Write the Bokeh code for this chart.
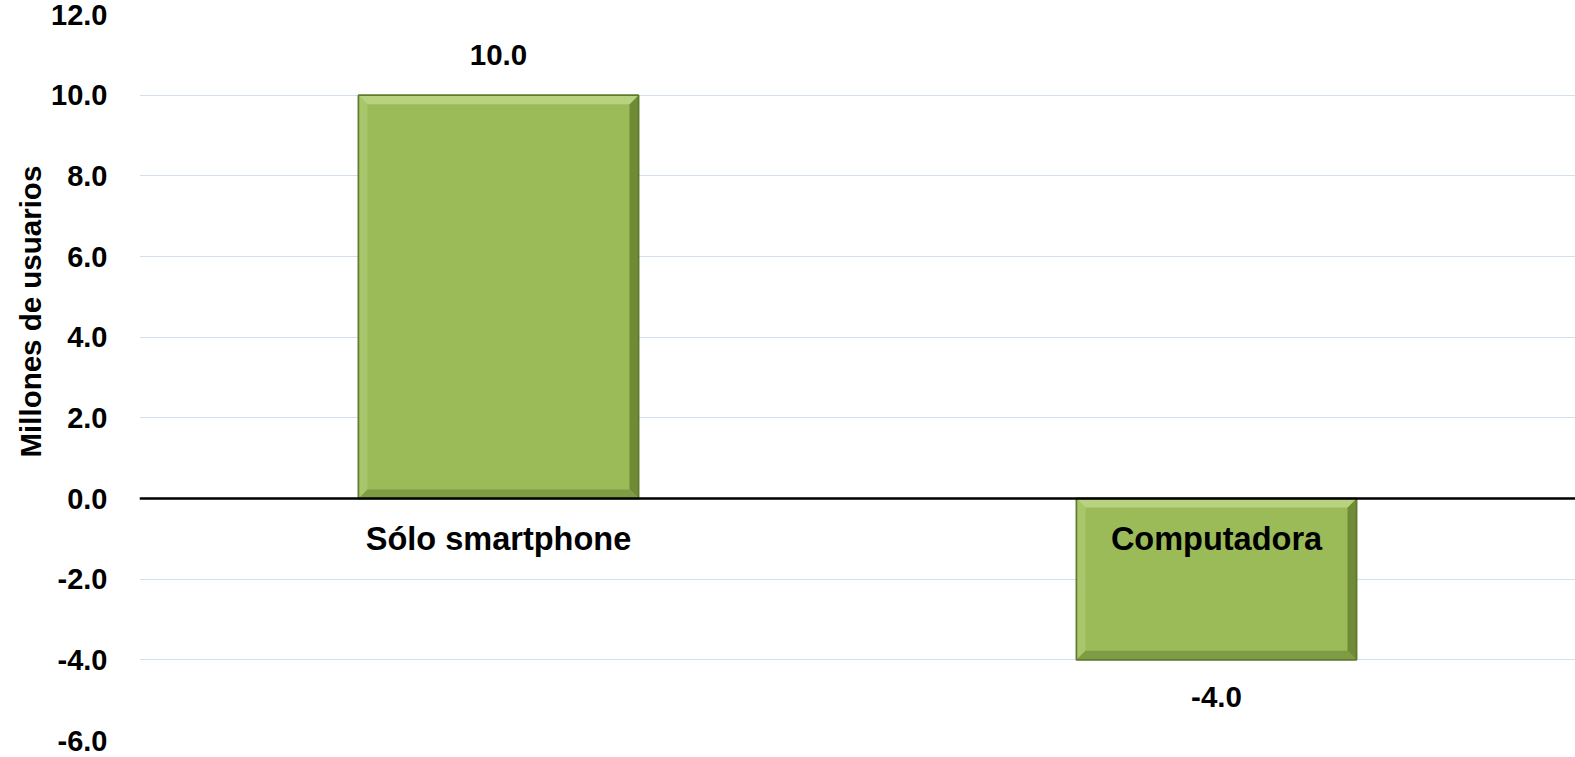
from bokeh.plotting import figure
from bokeh.models import Range1d, FixedTicker, NumeralTickFormatter, Span, Title
from bokeh.core.properties import value
from bokeh.embed import file_html
from bokeh.resources import INLINE

# ---- data ----
categories = ["Sólo smartphone", "Computadora"]
values = [10.0, -4.0]
value_labels = ["10.0", "-4.0"]
y_ticks = [-6, -4, -2, 0, 2, 4, 6, 8, 10, 12]
y_title = "Millones de usuarios"

# ---- style ----
FONT = "Liberation Sans"
W, H = 1575, 757
BL, BR, BT, BB = 139, 0, 14, 17
YMIN, YMAX = -6, 12
BAR_W = 0.39
GREEN = "#9BBB59"

p = figure(width=W, height=H, output_backend="svg", toolbar_location=None,
           x_range=Range1d(0, len(categories)), y_range=Range1d(YMIN, YMAX),
           min_border_left=BL, min_border_right=BR, min_border_top=BT, min_border_bottom=BB)
p.outline_line_color = None
p.background_fill_color = "white"
p.border_fill_color = "white"
p.xaxis.visible = False
p.xgrid.grid_line_color = None
p.ygrid.grid_line_color = "#D3DFF0"
p.ygrid.grid_line_width = 1

yax = p.yaxis[0]
yax.ticker = FixedTicker(ticks=y_ticks)
yax.formatter = NumeralTickFormatter(format="0.0")
yax.axis_line_color = None
yax.major_tick_line_color = None
yax.minor_tick_line_color = None
yax.major_label_text_font = FONT
yax.major_label_text_font_style = "bold"
yax.major_label_text_font_size = "29px"
yax.major_label_text_color = "black"
yax.major_label_standoff = 26

# y-axis title, off-centre as in the reference
p.add_layout(Title(text=y_title, align="left", offset=283, vertical_align="top",
                   text_font=FONT, text_font_style="bold", text_font_size="29.5px",
                   text_color="black", standoff=0), "left")

# pixel scale for bevel sizes
frame_w = W - BL - BR
frame_h = H - BT - BB
px_x = len(categories) / frame_w
px_y = (YMAX - YMIN) / frame_h
bev = 9
dx, dy = bev * px_x, bev * px_y

xc = [i + 0.5 for i in range(len(categories))]
left = [c - BAR_W / 2 for c in xc]
right = [c + BAR_W / 2 for c in xc]
bottom = [min(0, v) for v in values]
top = [max(0, v) for v in values]

# main bar body
p.quad(left=left, right=right, bottom=bottom, top=top, fill_color=GREEN,
       line_color="#5E7A2C", line_width=1.5)

# bevel bands
top_xs, top_ys, lft_xs, lft_ys, rgt_xs, rgt_ys, bot_xs, bot_ys = ([] for _ in range(8))
for l, r, b, t in zip(left, right, bottom, top):
    top_xs.append([l, r, r - dx, l + dx]); top_ys.append([t, t, t - dy, t - dy])
    bot_xs.append([l, r, r - dx, l + dx]); bot_ys.append([b, b, b + dy, b + dy])
    lft_xs.append([l, l + dx, l + dx, l]); lft_ys.append([b, b + dy, t - dy, t])
    rgt_xs.append([r, r - dx, r - dx, r]); rgt_ys.append([b, b + dy, t - dy, t])
p.patches(lft_xs, lft_ys, fill_color="#A8C66B", line_color=None)
p.patches(rgt_xs, rgt_ys, fill_color="#6F8B36", line_color=None)
p.patches(bot_xs, bot_ys, fill_color="#7E9C44", line_color=None)
p.patches(top_xs, top_ys, fill_color="#B9D27F", line_color=None)
p.quad(left=left, right=right, bottom=bottom, top=top, fill_color=None,
       line_color="#5E7A2C", line_width=1.5)

# zero line
p.add_layout(Span(location=0, dimension="width", line_color="black", line_width=2.5))

# category labels below zero line
p.text(x=xc, y=[0] * len(categories), text=categories, y_offset=40,
       text_align="center", text_baseline="middle", text_font=value(FONT),
       text_font_style="bold", text_font_size="32.5px", text_color="black")

# value labels
offs = [-40 if v >= 0 else 37 for v in values]
p.text(x=xc, y=values, text=value_labels, y_offset=offs,
       text_align="center", text_baseline="middle", text_font=value(FONT),
       text_font_style="bold", text_font_size="29.5px", text_color="black")

open("out.html", "w").write(file_html(p, INLINE))
